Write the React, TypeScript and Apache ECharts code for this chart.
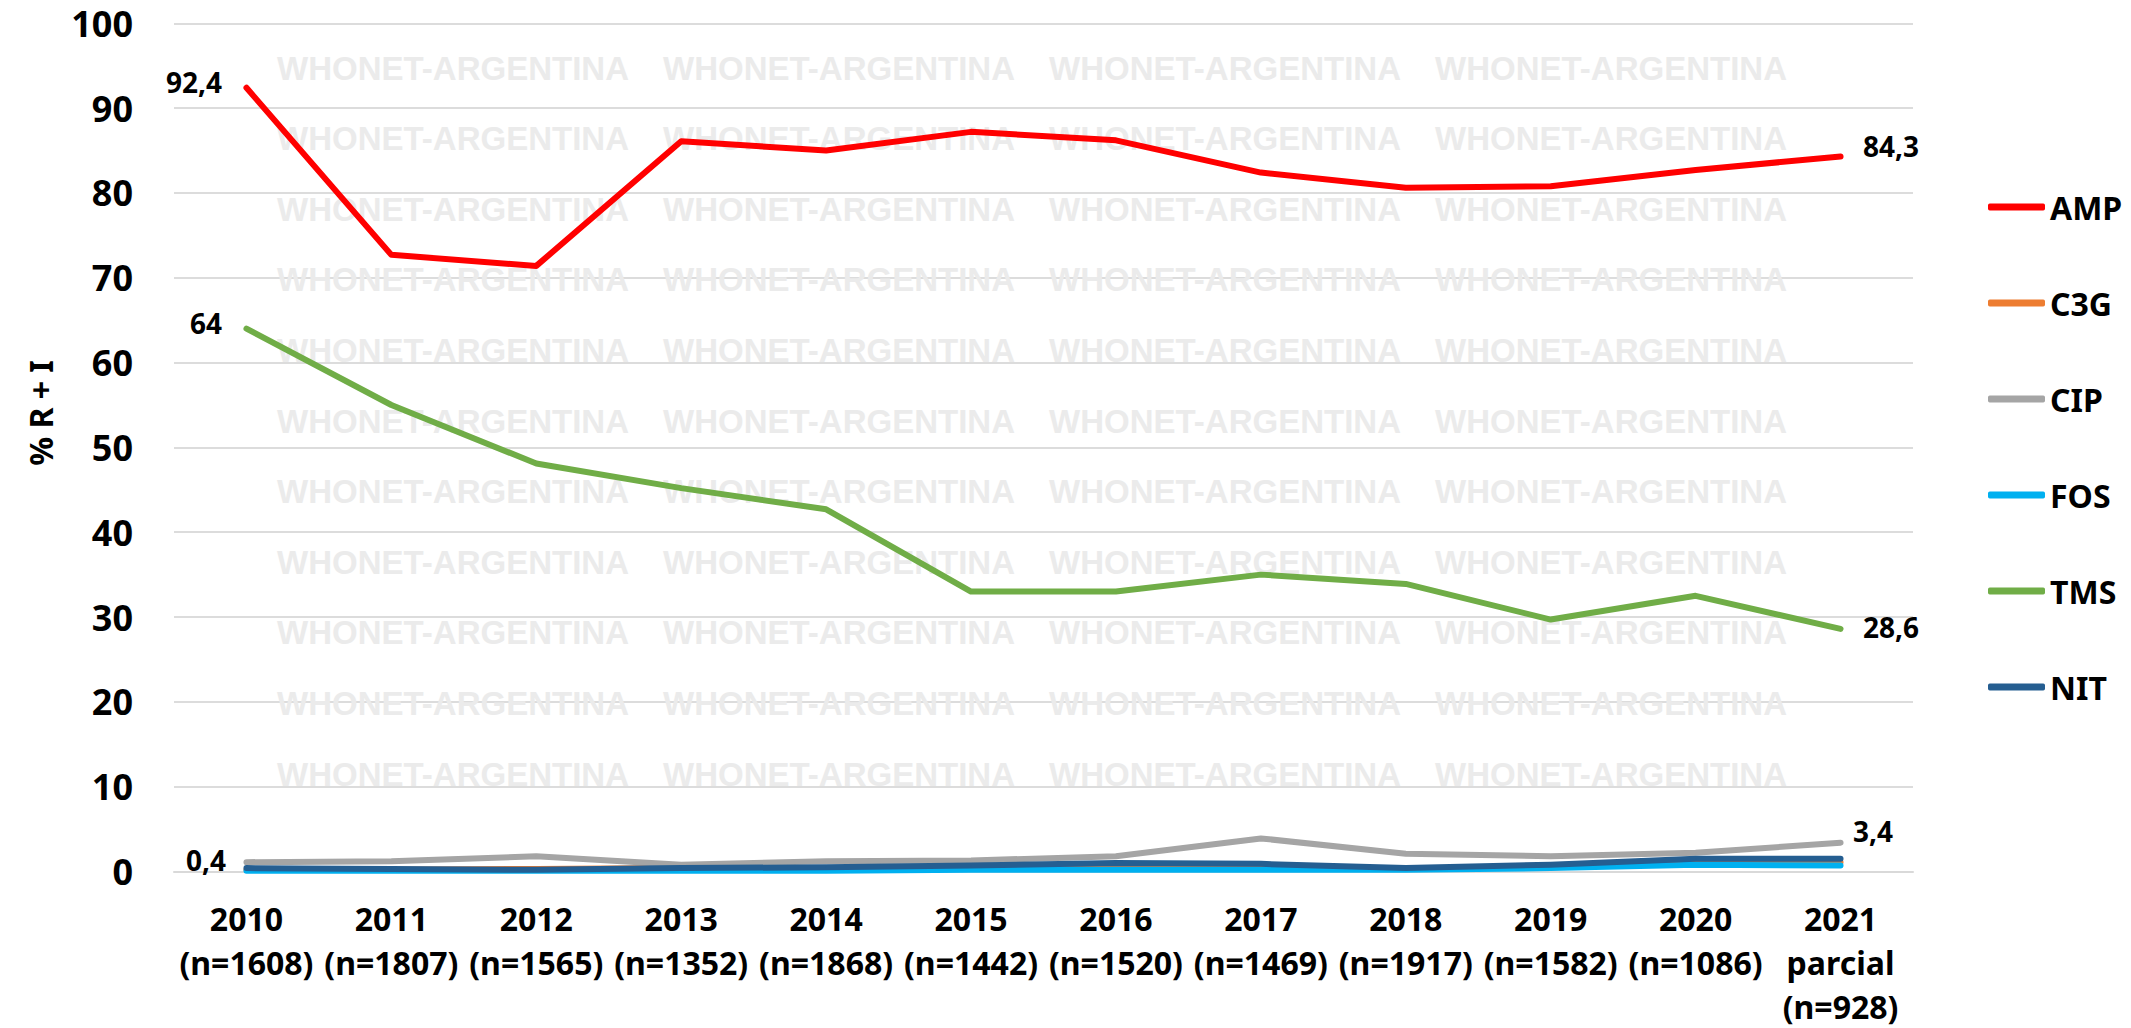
import React, { useEffect, useRef } from "react";
import * as echarts from "echarts";

const categories = [
  "2010\n(n=1608)",
  "2011\n(n=1807)",
  "2012\n(n=1565)",
  "2013\n(n=1352)",
  "2014\n(n=1868)",
  "2015\n(n=1442)",
  "2016\n(n=1520)",
  "2017\n(n=1469)",
  "2018\n(n=1917)",
  "2019\n(n=1582)",
  "2020\n(n=1086)",
  "2021\nparcial\n(n=928)",
];

const amp = [92.4, 72.7, 71.4, 86.1, 85.0, 87.2, 86.2, 82.4, 80.6, 80.8, 82.7, 84.3];
const c3g = [0.2, 0.2, 0.3, 0.4, 0.4, 0.3, 0.4, 0.4, 0.3, 0.5, 1.0, 1.1];
const cip = [1.1, 1.2, 1.8, 0.8, 1.2, 1.3, 1.8, 3.9, 2.1, 1.8, 2.2, 3.4];
const fos = [0.1, 0.1, 0.1, 0.1, 0.1, 0.2, 0.2, 0.2, 0.2, 0.4, 0.8, 0.7];
const tms = [64, 55.0, 48.1, 45.2, 42.7, 33.0, 33.0, 35.0, 33.9, 29.7, 32.5, 28.6];
const nit = [0.4, 0.3, 0.2, 0.4, 0.5, 0.7, 1.0, 0.9, 0.4, 0.8, 1.5, 1.5];

const seriesNames = ["AMP", "C3G", "CIP", "FOS", "TMS", "NIT"];
const seriesColors = ["#FF0000", "#ED7D31", "#A5A5A5", "#00B0F0", "#70AD47", "#255E91"];
const seriesValues = [amp, c3g, cip, fos, tms, nit];

const yAxisTitle = "% R + I";
const watermarkText = "WHONET-ARGENTINA";

// which points carry a data label: [seriesIndex, pointIndex, position, distance, offsetY]
const labelledPoints: [number, number, string, number, number][] = [
  [0, 0, "left", 24, -6],
  [4, 0, "left", 24, -6],
  [5, 0, "left", 20, -8],
  [0, 11, "right", 22, -10],
  [4, 11, "right", 22, -2],
  [2, 11, "right", 12, -12],
];

const FONT = "'Noto Sans', 'Open Sans', sans-serif";

function fmt(v: number) {
  return String(v).replace(".", ",");
}

export default function App() {
  const ref = useRef<HTMLDivElement>(null);

  useEffect(() => {
    if (!ref.current) return;
    const chart = echarts.init(ref.current, undefined, { renderer: "svg" });

    const series = seriesNames.map((name, si) => ({
      name,
      type: "line",
      symbol: "circle",
      symbolSize: 1,
      showSymbol: true,
      z: 2 + si,
      itemStyle: { color: seriesColors[si] },
      lineStyle: { color: seriesColors[si], width: 6, cap: "round", join: "round" },
      emphasis: { disabled: true },
      data: seriesValues[si].map((v, pi) => {
        const lp = labelledPoints.find((p) => p[0] === si && p[1] === pi);
        if (!lp) return { value: v, label: { show: false } };
        return {
          value: v,
          label: {
            show: true,
            position: lp[2],
            distance: lp[3],
            offset: [0, lp[4]],
            formatter: () => fmt(v),
            fontFamily: FONT,
            fontWeight: "bold",
            fontSize: 28,
            color: "#000",
          },
        };
      }),
    }));

    const wmCols = [277, 663, 1049, 1435];
    const wmRows = Array.from({ length: 11 }, (_, i) => 68 + i * 70.6);
    const watermarks: any[] = [];
    wmRows.forEach((y) =>
      wmCols.forEach((x) =>
        watermarks.push({
          type: "text",
          x,
          y,
          z: 1,
          silent: true,
          style: {
            text: watermarkText,
            fontFamily: "'Liberation Sans', Arial, sans-serif",
            fontWeight: "bold",
            fontSize: 33,
            fill: "#ebebeb",
            verticalAlign: "middle",
          },
        })
      )
    );

    chart.setOption({
      animation: false,
      backgroundColor: "#ffffff",
      grid: {
        left: 174,
        right: 218,
        top: 23.3,
        bottom: 156.5,
        containLabel: false,
        outerBoundsMode: "none",
      },
      legend: {
        orient: "vertical",
        left: 1983,
        top: 182,
        itemWidth: 57,
        itemHeight: 7,
        itemGap: 56,
        icon: "roundRect",
        selectedMode: false,
        textStyle: {
          fontFamily: FONT,
          fontWeight: "bold",
          fontSize: 32,
          lineHeight: 40,
          color: "#000",
        },
        data: seriesNames,
      },
      xAxis: {
        type: "category",
        data: categories,
        boundaryGap: true,
        axisLine: { show: true, lineStyle: { color: "#d9d9d9", width: 2 } },
        axisTick: { show: false },
        axisLabel: {
          interval: 0,
          margin: 25,
          fontFamily: FONT,
          fontWeight: "bold",
          fontSize: 32,
          lineHeight: 44,
          color: "#000",
        },
        splitLine: { show: false },
      },
      yAxis: {
        type: "value",
        min: 0,
        max: 100,
        interval: 10,
        axisLine: { show: false },
        axisTick: { show: false },
        axisLabel: {
          margin: 41,
          fontFamily: FONT,
          fontWeight: "bold",
          fontSize: 36,
          color: "#000",
        },
        splitLine: { show: true, lineStyle: { color: "#d0d0d0", width: 1.5 } },
      },
      graphic: [
        ...watermarks,
        {
          type: "text",
          x: 40,
          y: 413,
          rotation: Math.PI / 2,
          z: 5,
          style: {
            text: yAxisTitle,
            fontFamily: FONT,
            fontWeight: "bold",
            fontSize: 32,
            fill: "#000",
            align: "center",
            verticalAlign: "middle",
          },
        },
      ],
      series,
    });

    return () => chart.dispose();
  }, []);

  return (
    <div
      ref={ref}
      style={{ position: "fixed", left: 0, top: 0, width: 2131, height: 1028 }}
    />
  );
}
